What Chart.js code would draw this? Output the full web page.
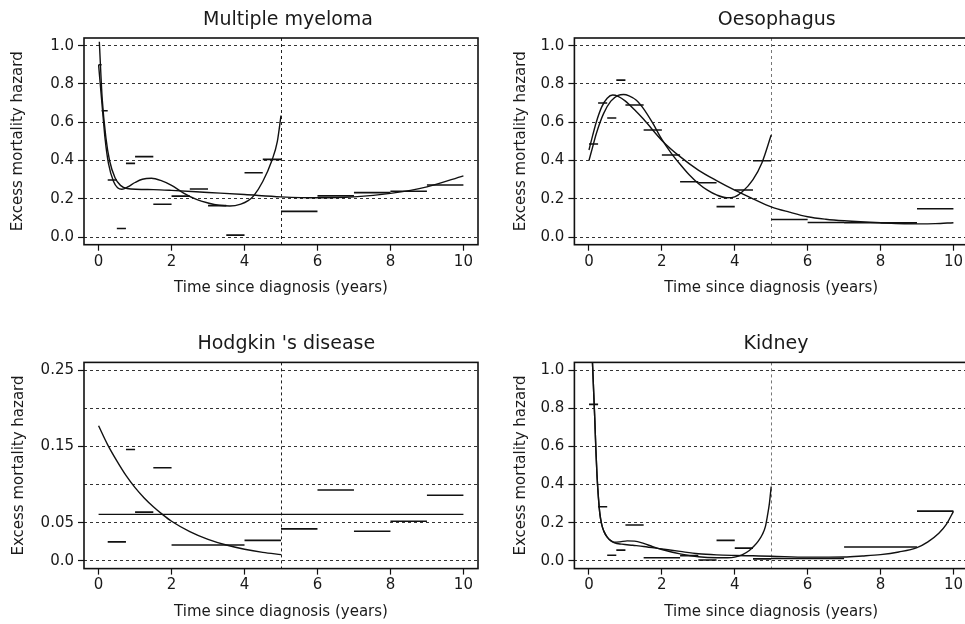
<!DOCTYPE html>
<html><head><meta charset="utf-8">
<script src="https://cdn.jsdelivr.net/npm/chart.js@4.4.1/dist/chart.umd.min.js"></script>
<style>
html,body{margin:0;padding:0;background:#fff;overflow:hidden;width:965px;height:624px;}
canvas{position:absolute;}
</style></head><body>
<canvas id="c1" width="482" height="312" style="left:0px;top:0px"></canvas>
<canvas id="c2" width="493" height="312" style="left:482px;top:0px"></canvas>
<canvas id="c3" width="482" height="312" style="left:0px;top:312px"></canvas>
<canvas id="c4" width="493" height="312" style="left:482px;top:312px"></canvas>
<script>
// ---------- shared text & ticks ----------
const xAxisTitle = "Time since diagnosis (years)";
const yAxisTitle = "Excess mortality hazard";
const xTickValues = [0, 2, 4, 6, 8, 10];
const yTickValues = [0, 0.2, 0.4, 0.6, 0.8, 1.0];
const yTickLabels = ["0.0", "0.2", "0.4", "0.6", "0.8", "1.0"];
const yTickValuesHodgkin = [0, 0.05, 0.1, 0.15, 0.2, 0.25];
const yTickLabelsHodgkin = ["0.0", "0.05", "", "0.15", "", "0.25"];
const cutoffYear = 5;

// ---------- Multiple myeloma ----------
const myelomaTitle = "Multiple myeloma";
const myelomaIntStart = [0, 0.083, 0.25, 0.5, 0.75, 1, 1.5, 2, 2.5, 3, 3.5, 4, 4.5, 5, 6, 7, 8, 9];
const myelomaIntEnd   = [0.083, 0.25, 0.5, 0.75, 1, 1.5, 2, 2.5, 3, 3.5, 4, 4.5, 5, 6, 7, 8, 9, 10];
const myelomaRate     = [0.90, 0.66, 0.298, 0.045, 0.385, 0.42, 0.171, 0.214, 0.251, 0.164, 0.01, 0.336, 0.406, 0.134, 0.215, 0.232, 0.239, 0.272];
const myelomaFit5Time  = [0, 0.1, 0.18, 0.27, 0.41, 0.52, 0.64, 0.8, 1.0, 1.2, 1.45, 1.7, 2.0, 2.33, 2.7, 3.0, 3.3, 3.6, 3.9, 4.1, 4.25, 4.5, 4.75, 4.9, 5.0];
const myelomaFit5Value = [0.90, 0.68, 0.51, 0.385, 0.29, 0.258, 0.25, 0.262, 0.285, 0.302, 0.307, 0.296, 0.27, 0.23, 0.195, 0.178, 0.166, 0.162, 0.172, 0.19, 0.215, 0.29, 0.40, 0.5, 0.635];
const myelomaFit10Time  = [0.02, 0.1, 0.2, 0.3, 0.45, 0.6, 0.78, 1.5, 2.0, 3.0, 4.0, 5.0, 6.0, 7.0, 8.0, 9.0, 10.0];
const myelomaFit10Value = [1.02, 0.72, 0.52, 0.40, 0.31, 0.27, 0.254, 0.248, 0.244, 0.233, 0.222, 0.21, 0.205, 0.21, 0.228, 0.262, 0.32];

// ---------- Oesophagus ----------
const oesoTitle = "Oesophagus";
const oesoIntStart = [0, 0.25, 0.5, 0.75, 1, 1.5, 2, 2.5, 3, 3.5, 4, 4.5, 5, 6, 7, 8, 9];
const oesoIntEnd   = [0.25, 0.5, 0.75, 1, 1.5, 2, 2.5, 3, 3.5, 4, 4.5, 5, 6, 7, 8, 9, 10];
const oesoRate     = [0.486, 0.70, 0.622, 0.82, 0.69, 0.559, 0.429, 0.289, 0.284, 0.159, 0.246, 0.399, 0.092, 0.076, 0.075, 0.074, 0.148];
const oesoFit5Time  = [0, 0.1, 0.2, 0.4, 0.6, 0.8, 0.95, 1.1, 1.3, 1.5, 1.75, 2.0, 2.25, 2.5, 2.75, 3.0, 3.25, 3.5, 3.78, 4.0, 4.2, 4.5, 4.75, 5.0];
const oesoFit5Value = [0.40, 0.47, 0.54, 0.645, 0.71, 0.74, 0.745, 0.738, 0.715, 0.67, 0.595, 0.51, 0.44, 0.38, 0.325, 0.28, 0.245, 0.22, 0.205, 0.21, 0.235, 0.30, 0.39, 0.533];
const oesoFit10Time  = [0, 0.1, 0.2, 0.35, 0.5, 0.65, 0.8, 1.0, 1.25, 1.5, 2.0, 2.5, 3.0, 3.5, 4.0, 4.5, 5.0, 5.5, 6.0, 6.5, 7.0, 8.0, 9.0, 9.5, 10.0];
const oesoFit10Value = [0.455, 0.53, 0.6, 0.68, 0.725, 0.742, 0.735, 0.71, 0.665, 0.615, 0.505, 0.42, 0.35, 0.295, 0.245, 0.2, 0.158, 0.13, 0.106, 0.093, 0.085, 0.075, 0.069, 0.07, 0.075];

// ---------- Hodgkin's disease ----------
const hodgkinTitle = "Hodgkin 's disease";
const hodgkinIntStart = [0.25, 0.75, 1, 1.5, 2, 4, 5, 6, 7, 8, 9];
const hodgkinIntEnd   = [0.75, 1, 1.5, 2, 4, 5, 6, 7, 8, 9, 10];
const hodgkinRate     = [0.025, 0.146, 0.064, 0.122, 0.021, 0.027, 0.042, 0.093, 0.039, 0.052, 0.086];
const hodgkinFit5Time  = [0, 0.25, 0.5, 0.75, 1, 1.25, 1.5, 1.75, 2, 2.5, 3, 3.5, 4, 4.5, 5];
const hodgkinFit5Value = [0.177, 0.152, 0.131, 0.112, 0.096, 0.0825, 0.071, 0.061, 0.052, 0.0385, 0.0283, 0.0209, 0.0154, 0.0113, 0.0083];
const hodgkinConstTime  = [0, 10];
const hodgkinConstValue = [0.061, 0.061];

// ---------- Kidney ----------
const kidneyTitle = "Kidney";
const kidneyIntStart = [0, 0.25, 0.5, 0.75, 1, 1.5, 2.5, 3, 3.5, 4, 4.5, 5, 7, 9];
const kidneyIntEnd   = [0.25, 0.5, 0.75, 1, 1.5, 2.5, 3, 3.5, 4, 4.5, 5, 7, 9, 10];
const kidneyRate     = [0.82, 0.284, 0.03, 0.057, 0.188, 0.017, 0.028, 0.005, 0.108, 0.067, 0.011, 0.013, 0.073, 0.261];
const kidneyFit5Time  = [0.07, 0.1, 0.13, 0.16, 0.19, 0.22, 0.26, 0.3, 0.35, 0.41, 0.5, 0.6, 0.7, 0.85, 1.05, 1.25, 1.5, 1.75, 2.0, 2.5, 3.0, 3.5, 3.8, 4.0, 4.2, 4.4, 4.53, 4.65, 4.76, 4.84, 4.9, 4.95, 5.0];
const kidneyFit5Value = [1.15, 1.02, 0.88, 0.74, 0.58, 0.45, 0.33, 0.245, 0.19, 0.155, 0.125, 0.107, 0.098, 0.1, 0.105, 0.104, 0.092, 0.075, 0.06, 0.037, 0.022, 0.017, 0.017, 0.02, 0.032, 0.055, 0.078, 0.105, 0.14, 0.18, 0.24, 0.3, 0.39];
const kidneyFit10Time  = [0.07, 0.1, 0.13, 0.16, 0.19, 0.22, 0.26, 0.3, 0.35, 0.41, 0.5, 0.6, 0.7, 0.9, 1.2, 1.5, 2.0, 2.5, 3.0, 3.5, 4.0, 4.5, 5.0, 6.0, 7.0, 7.5, 8.0, 8.5, 9.0, 9.3, 9.6, 9.8, 10.0];
const kidneyFit10Value = [1.15, 1.02, 0.88, 0.74, 0.58, 0.45, 0.33, 0.245, 0.19, 0.155, 0.125, 0.105, 0.095, 0.088, 0.082, 0.076, 0.063, 0.05, 0.038, 0.032, 0.029, 0.027, 0.025, 0.02, 0.021, 0.026, 0.033, 0.047, 0.07, 0.1, 0.145, 0.19, 0.26];

// ---------- drawing ----------
Chart.defaults.font.family = "'DejaVu Sans', sans-serif";
Chart.defaults.color = '#1a1a1a';

const INK = '#111';

const panelDecor = {
  id: 'panelDecor',
  beforeDatasetsDraw(chart, args, opts) {
    const {ctx, chartArea: a, scales: {x}} = chart;
    const px = Math.round(x.getPixelForValue(opts.cutoff)) + 0.5;
    ctx.save();
    ctx.strokeStyle = opts.cutColor;
    ctx.lineWidth = 1;
    ctx.setLineDash([3, 3]);
    ctx.beginPath();
    ctx.moveTo(px, a.top);
    ctx.lineTo(px, a.bottom);
    ctx.stroke();
    ctx.restore();
  },
  afterDraw(chart, args, opts) {
    const {ctx, chartArea: a} = chart;
    ctx.save();
    ctx.strokeStyle = INK;
    ctx.lineWidth = 1.6;
    ctx.strokeRect(a.left, a.top, a.right - a.left, a.bottom - a.top);
    ctx.fillStyle = '#1a1a1a';
    ctx.font = "19px 'DejaVu Sans', sans-serif";
    ctx.textAlign = 'center';
    ctx.textBaseline = 'alphabetic';
    ctx.fillText(opts.title, (a.left + a.right) / 2 + opts.dx, a.top - 13);
    ctx.restore();
  }
};

function stepPoints(start, end, rate) {
  const pts = [];
  start.forEach((s, i) => {
    pts.push({x: s, y: rate[i]}, {x: end[i], y: rate[i]}, {x: end[i], y: null});
  });
  return pts;
}
function curvePoints(t, v) { return t.map((ti, i) => ({x: ti, y: v[i]})); }

function buildPanel(id, p) {
  const datasets = [
    {data: stepPoints(p.start, p.end, p.rate), borderColor: INK, borderWidth: 1.6, pointRadius: 0, tension: 0, spanGaps: false, fill: false}
  ];
  p.curves.forEach(c => {
    datasets.push({data: curvePoints(c[0], c[1]), borderColor: INK, borderWidth: 1.4, pointRadius: 0,
      cubicInterpolationMode: 'monotone', fill: false});
  });
  new Chart(document.getElementById(id), {
    type: 'line',
    data: {datasets},
    plugins: [panelDecor],
    options: {
      responsive: false,
      animation: false,
      events: [],
      layout: {padding: p.padding},
      plugins: {
        legend: {display: false},
        tooltip: {enabled: false},
        title: {display: false},
        panelDecor: {title: p.title, dx: p.dx, cutoff: cutoffYear, cutColor: p.cutColor}
      },
      scales: {
        x: {
          type: 'linear', min: -0.4, max: 10.4,
          afterBuildTicks: s => { s.ticks = xTickValues.map(v => ({value: v})); },
          afterFit: s => { s.height = p.xHeight; },
          ticks: {callback: v => String(v), font: {size: 15}, padding: 2, maxRotation: 0, autoSkip: false, color: '#1a1a1a'},
          grid: {drawOnChartArea: false, drawTicks: true, tickLength: 6, tickWidth: 1.2, tickColor: INK},
          border: {display: false},
          title: {display: true, text: xAxisTitle, font: {size: 15}, color: '#1a1a1a', padding: {top: 0, bottom: p.xTitlePad}}
        },
        y: {
          type: 'linear', min: p.yMin, max: p.yMax,
          afterBuildTicks: s => { s.ticks = p.yTicks.map(v => ({value: v})); },
          afterFit: s => { s.width = p.yWidth; },
          ticks: {callback: (v, i) => p.yLabels[i], font: {size: 15}, padding: 4, autoSkip: false, color: '#1a1a1a'},
          grid: {color: '#333', lineWidth: 1, drawTicks: true, tickLength: 6, tickWidth: 1.2,
                 tickColor: c => (p.yLabels[c.index] === '' ? 'rgba(0,0,0,0)' : INK)},
          border: {display: false, dash: [3, 3]},
          title: {display: true, text: yAxisTitle, font: {size: 15}, color: '#1a1a1a', padding: {top: p.yTitlePad, bottom: 0}}
        }
      }
    }
  });
}

buildPanel('c1', {
  title: myelomaTitle, dx: 7, cutColor: '#222',
  start: myelomaIntStart, end: myelomaIntEnd, rate: myelomaRate,
  curves: [[myelomaFit5Time, myelomaFit5Value], [myelomaFit10Time, myelomaFit10Value]],
  yMin: -0.04, yMax: 1.04, yTicks: yTickValues, yLabels: yTickLabels,
  padding: {left: 0, top: 38, right: 4, bottom: 12}, yWidth: 84, xHeight: 55.3, yTitlePad: 9.5, xTitlePad: 2.5
});
buildPanel('c2', {
  title: oesoTitle, dx: 5.5, cutColor: '#777',
  start: oesoIntStart, end: oesoIntEnd, rate: oesoRate,
  curves: [[oesoFit5Time, oesoFit5Value], [oesoFit10Time, oesoFit10Value]],
  yMin: -0.04, yMax: 1.04, yTicks: yTickValues, yLabels: yTickLabels,
  padding: {left: 0, top: 38, right: 7, bottom: 12}, yWidth: 92.4, xHeight: 55.3, yTitlePad: 29.8, xTitlePad: 2.5
});
buildPanel('c3', {
  title: hodgkinTitle, dx: 5.3, cutColor: '#222',
  start: hodgkinIntStart, end: hodgkinIntEnd, rate: hodgkinRate,
  curves: [[hodgkinFit5Time, hodgkinFit5Value], [hodgkinConstTime, hodgkinConstValue]],
  yMin: -0.01, yMax: 0.26, yTicks: yTickValuesHodgkin, yLabels: yTickLabelsHodgkin,
  padding: {left: 0, top: 50.4, right: 4, bottom: 0}, yWidth: 84, xHeight: 55.4, yTitlePad: 9.8, xTitlePad: 3
});
buildPanel('c4', {
  title: kidneyTitle, dx: 4.8, cutColor: '#777',
  start: kidneyIntStart, end: kidneyIntEnd, rate: kidneyRate,
  curves: [[kidneyFit5Time, kidneyFit5Value], [kidneyFit10Time, kidneyFit10Value]],
  yMin: -0.04, yMax: 1.04, yTicks: yTickValues, yLabels: yTickLabels,
  padding: {left: 0, top: 50.4, right: 7, bottom: 0}, yWidth: 92.4, xHeight: 55.4, yTitlePad: 29.8, xTitlePad: 3
});
</script></body></html>
